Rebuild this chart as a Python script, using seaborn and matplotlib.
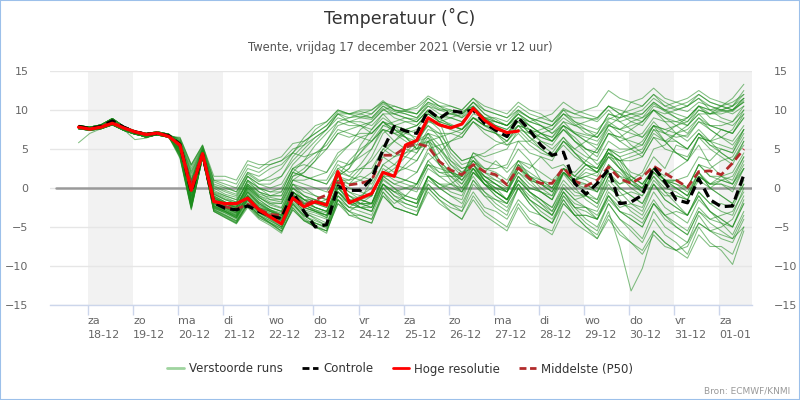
import pandas as pd
import matplotlib
matplotlib.use("Agg")
import matplotlib.pyplot as plt
from matplotlib.lines import Line2D
from matplotlib.patches import Rectangle
import seaborn as sns

# 6-hourly steps, local time, first step 17-12 19:00
start = "2021-12-17 19:00"
n_steps = 60

day_names = ["za", "zo", "ma", "di", "wo", "do", "vr",
             "za", "zo", "ma", "di", "wo", "do", "vr", "za"]
day_dates = ["18-12", "19-12", "20-12", "21-12", "22-12", "23-12", "24-12",
             "25-12", "26-12", "27-12", "28-12", "29-12", "30-12", "31-12", "01-01"]

hres = [7.8, 7.55, 7.8, 8.3, 7.7, 7.2, 6.85, 7.05, 6.6, 5.5, -0.3, 4.4, -1.75, -2.0,
        -2.0, -1.3, -2.8, -3.7, -4.6, -1.3, -2.4, -1.75, -2.2, 2.1, -1.9, -1.3, -0.7,
        2.0, 1.5, 5.5, 6.1, 9.0, 8.1, 7.7, 8.2, 10.2, 8.7, 7.7, 7.1, 7.3]

control = [7.9, 7.6, 7.9, 8.6, 7.8, 7.2, 6.9, 7.0, 6.7, 5.6, -0.5, 4.3, -1.9, -2.6,
           -2.8, -2.3, -3.0, -3.6, -3.9, -0.5, -3.0, -5.0, -4.7, 0.2, -0.3, -0.3, 1.2,
           4.9, 7.9, 7.3, 7.0, 10.0, 8.9, 9.9, 9.7, 10.0, 8.3, 7.4, 6.6, 9.0, 7.4,
           5.5, 4.2, 4.6, 0.6, -0.8, 0.6, 2.4, -2.0, -1.8, -0.9, 2.7, 0.8, -1.5, -1.9,
           1.2, -1.5, -2.4, -2.3, 1.7]

p50 = [7.8, 7.6, 7.9, 8.4, 7.8, 7.2, 6.9, 7.0, 6.7, 5.4, 0.3, 4.4, -1.6, -2.4, -2.7,
       -2.1, -2.7, -3.4, -3.5, -0.9, -2.2, -1.5, -0.9, 0.7, 0.4, 0.6, 1.0, 4.2, 4.2,
       5.2, 5.7, 5.3, 3.4, 2.3, 1.7, 3.0, 2.1, 1.7, 0.4, 2.6, 1.2, 0.6, 0.6, 2.6, 0.9,
       0.25, 1.0, 2.7, 1.2, 0.6, 1.4, 2.8, 1.9, 1.0, 0.1, 2.1, 2.2, 1.7, 3.2, 5.0]

members = [
    [7.8, 7.6, 7.8, 8.4, 7.6, 7.1, 6.8, 7.0, 6.6, 5.8, 1.0, 4.8, -0.5, -1.0, -1.5, 0.5, -0.8, -1.2, -1.5, 1.5, 2.0, 3.5, 6.0, 8.5, 9.0, 9.2, 9.0, 10.5, 9.8, 9.5, 9.0, 10.8, 10.0, 9.5, 9.2, 11.0, 9.5, 8.8, 8.0, 9.8, 9.0, 8.5, 8.0, 9.5, 8.2, 7.0, 6.5, 8.8, 9.5, 10.0, 10.5, 12.0, 11.0, 10.2, 9.8, 11.0, 10.5, 10.0, 9.8, 11.2],
    [7.9, 7.7, 7.9, 8.6, 7.8, 7.2, 6.9, 7.1, 6.8, 6.2, 2.5, 5.3, 0.8, 0.2, -0.5, 2.0, 1.5, 2.5, 3.0, 4.5, 6.5, 8.0, 8.5, 10.0, 9.5, 9.0, 8.8, 10.2, 9.0, 8.5, 8.0, 9.8, 8.8, 8.2, 7.5, 9.0, 8.0, 7.0, 6.0, 8.0, 7.5, 6.0, 5.5, 7.5, 6.5, 5.0, 4.0, 7.0, 6.5, 6.0, 5.5, 8.0, 7.0, 6.5, 6.8, 8.5, 8.0, 7.5, 7.0, 9.0],
    [7.6, 7.4, 7.6, 8.1, 7.4, 6.9, 6.6, 6.8, 6.5, 5.2, -0.5, 4.4, -1.8, -2.5, -3.2, -1.0, -2.8, -3.5, -4.2, -1.0, -2.5, -3.0, -3.8, 0.5, -1.0, -2.0, -2.5, 1.2, 0.0, -1.5, -2.0, 1.5, 0.5, 0.0, -0.5, 2.5, 1.5, 0.5, -0.2, 3.0, 1.0, -0.5, -1.5, 1.8, 0.0, -1.5, -2.5, 1.0, -0.5, -2.0, -3.0, 0.5, -1.5, -2.5, -3.5, -0.5, -2.0, -3.0, -3.5, 0.0],
    [8.0, 7.8, 8.1, 8.9, 7.9, 7.3, 7.0, 7.2, 6.9, 4.5, -2.0, 4.0, -2.5, -3.0, -3.8, -1.5, -3.2, -4.0, -5.0, -1.5, -3.0, -4.0, -4.8, -0.5, -2.0, -1.5, 1.0, 4.5, 6.0, 7.5, 8.0, 9.5, 8.5, 8.0, 7.5, 9.0, 8.0, 7.5, 7.0, 8.5, 7.0, 6.5, 6.0, 8.0, 7.2, 6.8, 6.5, 8.2, 7.0, 5.5, 4.5, 7.5, 6.0, 4.5, 3.5, 6.5, 5.0, 4.0, 3.0, 6.0],
    [7.7, 7.5, 7.7, 8.2, 7.5, 7.0, 6.5, 6.9, 6.7, 5.5, 0.2, 4.6, -1.2, -2.0, -2.5, 0.0, -1.5, -2.5, -3.0, 0.5, -0.5, -1.0, -1.5, 2.5, 3.0, 4.5, 6.5, 8.5, 8.0, 8.5, 8.5, 10.0, 9.0, 9.5, 9.8, 10.5, 9.0, 7.0, 5.5, 6.0, 4.5, 4.0, 2.5, 3.0, 1.5, 1.0, 0.0, 3.0, 1.5, 1.0, 0.0, 2.5, 1.0, 0.0, -1.0, 2.0, 0.5, 0.5, -0.5, 2.5],
    [7.8, 7.6, 7.8, 8.4, 7.6, 7.1, 6.8, 7.0, 6.6, 3.8, -2.8, 3.9, -3.0, -3.8, -4.5, -2.0, -3.5, -4.5, -5.5, -2.5, -4.0, -5.0, -5.8, -1.5, -3.5, -4.0, -4.5, -0.5, -2.5, -3.0, -3.5, 0.5, -1.0, -2.0, -2.5, 1.0, -1.0, -2.5, -3.5, 0.0, -2.0, -3.5, -4.5, -1.0, -3.0, -4.5, -5.5, -2.0, -4.0, -5.0, -6.5, -3.0, -5.0, -6.0, -7.0, -3.5, -5.5, -6.5, -7.0, -4.0],
    [7.9, 7.7, 7.9, 8.6, 7.8, 7.2, 6.9, 7.1, 6.8, 6.0, 1.8, 5.0, 0.2, -0.5, -1.0, 1.5, 0.5, 0.5, 1.5, 3.5, 5.0, 6.5, 7.5, 9.5, 9.0, 9.5, 10.0, 11.0, 10.0, 9.8, 9.5, 11.5, 10.5, 10.0, 9.5, 10.5, 9.0, 8.0, 7.5, 9.0, 8.0, 7.0, 6.0, 8.0, 7.0, 6.0, 5.0, 7.5, 6.0, 5.0, 4.0, 6.5, 5.0, 4.5, 4.0, 6.5, 6.0, 6.5, 7.5, 10.0],
    [7.6, 7.4, 7.6, 8.1, 7.4, 6.9, 6.6, 6.8, 6.5, 4.9, -1.2, 4.2, -2.2, -2.8, -3.5, -1.5, -3.0, -3.8, -4.5, -1.0, -2.0, -2.0, -1.5, 1.5, 3.5, 5.0, 6.0, 7.5, 7.0, 6.5, 6.0, 8.0, 6.5, 3.5, 2.0, 2.5, 0.5, -1.0, -2.0, 0.5, -1.5, -2.5, -3.5, -1.0, -2.5, -3.0, -4.0, -1.5, -3.0, -3.5, -4.5, -2.0, -3.5, -3.0, -3.5, -0.5, -2.0, -2.0, -2.5, 0.5],
    [8.0, 7.8, 8.1, 8.9, 7.9, 7.3, 7.0, 7.2, 6.9, 5.8, 0.8, 4.9, -0.8, -1.5, -2.0, 0.8, -0.5, -1.0, -1.0, 2.0, 1.5, 1.0, 0.5, 2.5, 1.5, 1.0, 0.5, 3.0, 2.0, 2.5, 3.5, 6.0, 6.5, 7.0, 7.5, 9.5, 9.0, 9.0, 8.5, 10.0, 9.0, 8.5, 8.0, 9.5, 8.5, 8.0, 7.5, 9.0, 8.5, 9.0, 9.5, 11.0, 10.0, 9.5, 9.0, 10.5, 10.0, 10.0, 10.5, 12.0],
    [7.7, 7.5, 7.7, 8.2, 7.5, 7.0, 6.5, 6.9, 6.7, 5.0, -1.0, 4.3, -2.0, -2.5, -3.0, -0.5, -2.0, -3.0, -3.5, -0.5, -1.5, -2.0, -2.5, 1.0, 0.5, 2.0, 4.0, 7.0, 8.0, 7.5, 6.0, 6.5, 3.5, 2.0, 0.5, 2.5, 0.5, -0.5, -1.5, 1.0, -0.5, -1.5, -3.0, 0.0, -1.5, -2.5, -4.0, -1.0, -3.0, -4.0, -5.0, -2.0, -4.0, -5.0, -6.0, -3.0, -4.5, -5.5, -6.5, -3.5],
    [5.8, 7.0, 7.6, 8.3, 7.6, 7.0, 6.7, 6.9, 6.6, 5.4, 0.5, 4.7, -1.0, -1.8, -2.2, 0.2, -1.2, -2.0, -2.0, 1.0, 1.0, 1.5, 2.0, 4.0, 5.5, 7.5, 8.5, 10.0, 10.5, 10.0, 9.5, 11.0, 10.2, 9.8, 9.0, 10.0, 8.5, 7.5, 7.0, 8.5, 7.0, 6.0, 5.0, 6.5, 4.5, 3.0, 2.0, 4.5, 3.5, 3.5, 4.0, 6.5, 6.0, 7.0, 7.5, 9.0, 8.0, 8.0, 8.5, 10.5],
    [7.7, 7.5, 7.8, 8.3, 7.5, 6.2, 6.4, 6.9, 6.7, 6.4, 3.0, 5.5, 1.0, 1.0, 0.5, 3.0, 2.5, 3.5, 4.0, 5.7, 6.0, 7.0, 8.0, 9.5, 8.5, 8.0, 7.0, 8.5, 7.0, 6.0, 5.0, 7.0, 5.5, 3.0, 1.5, 3.0, 1.0, 0.5, -0.5, 2.5, 1.5, 1.0, 0.0, 2.5, 1.5, 3.0, 2.5, 5.0, 4.5, 5.0, 6.0, 8.0, 7.5, 7.0, 6.5, 8.5, 7.5, 6.5, 5.5, 7.5],
    [7.8, 7.6, 7.8, 8.4, 7.6, 7.1, 6.8, 7.0, 6.6, 5.2, -0.2, 4.5, -1.5, -2.2, -2.8, -0.5, -2.0, -2.8, -3.5, -0.5, -1.8, -2.5, -3.0, 0.5, -0.5, -1.0, -1.0, 2.5, 1.5, 1.0, 0.5, 3.5, 2.0, 1.5, 0.5, 3.0, 1.0, 0.0, -1.5, 1.5, -0.5, -2.0, -3.5, -0.5, -2.5, -4.0, -5.0, -2.0, -4.0, -5.5, -7.0, -4.0, -6.0, -7.0, -8.5, -5.0, -7.0, -8.0, -9.8, -5.5],
    [7.9, 7.7, 7.9, 8.6, 7.8, 7.2, 6.9, 7.1, 6.8, 4.2, -2.5, 4.0, -2.8, -3.5, -4.2, -2.0, -3.5, -4.5, -5.2, -2.0, -3.5, -4.5, -5.0, -1.0, -2.5, -3.0, -3.5, 0.0, -1.5, -2.0, -2.5, 1.5, 0.0, -1.0, -1.5, 2.0, 0.5, 0.0, -0.5, 3.0, 2.0, 1.0, 0.5, 2.5, 1.5, 3.0, 2.0, 4.0, 2.5, 1.5, 0.5, 2.5, 1.0, 0.5, 0.0, 3.0, 2.5, 3.5, 4.0, 6.5],
    [7.6, 7.4, 7.6, 8.1, 7.4, 6.9, 6.6, 6.8, 6.5, 5.6, 0.6, 4.8, -0.8, -1.5, -2.0, 1.0, -0.5, -1.5, -1.8, 1.5, 2.5, 4.0, 6.0, 8.0, 8.5, 9.0, 9.5, 11.0, 10.5, 10.0, 10.5, 11.8, 11.0, 10.5, 10.0, 11.5, 10.0, 9.5, 9.0, 10.5, 9.5, 9.0, 8.5, 10.2, 9.5, 9.0, 8.8, 10.5, 10.0, 9.5, 9.0, 10.8, 9.8, 9.0, 8.5, 10.0, 9.5, 9.8, 10.0, 11.0],
    [8.0, 7.8, 8.1, 8.9, 7.9, 7.3, 7.0, 7.2, 6.9, 4.7, -1.8, 4.1, -2.4, -3.0, -3.8, -1.2, -3.0, -3.5, -4.0, -0.5, -1.5, -1.5, -2.0, 1.5, 2.5, 5.5, 7.5, 9.5, 9.5, 10.0, 10.2, 11.5, 10.5, 9.5, 9.0, 10.5, 9.0, 8.5, 8.0, 9.5, 8.0, 7.0, 6.5, 8.0, 7.0, 6.5, 6.0, 8.0, 7.5, 8.0, 8.5, 10.5, 10.0, 10.5, 11.0, 12.0, 11.0, 10.5, 10.0, 11.0],
    [7.7, 7.5, 7.7, 8.2, 7.5, 7.0, 6.5, 6.9, 6.7, 5.9, 1.2, 5.0, -0.3, -1.0, -1.5, 1.5, 0.0, -0.5, -0.5, 2.5, 3.0, 2.5, 2.0, 4.5, 5.5, 6.5, 7.0, 8.5, 7.5, 6.5, 5.0, 6.0, 3.5, 2.0, 1.0, 3.0, 1.5, 0.5, -0.5, 2.0, 1.0, 0.5, 0.0, 2.5, 2.0, 3.5, 5.0, 8.0, 9.0, 11.0, 11.5, 12.8, 11.5, 11.0, 10.5, 11.5, 10.0, 9.0, 8.5, 10.0],
    [7.8, 7.6, 7.8, 8.4, 7.6, 7.1, 6.8, 7.0, 6.6, 5.0, -0.8, 4.3, -2.0, -2.5, -3.2, -1.0, -2.5, -3.0, -3.8, -0.5, -2.0, -3.0, -3.5, 0.0, -1.5, -2.5, -3.0, 0.5, -1.0, -2.0, -2.5, 1.0, 0.0, 0.5, 1.5, 4.0, 4.5, 5.5, 6.0, 8.0, 7.5, 7.0, 6.5, 8.5, 8.0, 8.5, 9.0, 10.5, 9.5, 9.0, 8.5, 10.0, 9.0, 8.5, 8.0, 9.5, 9.5, 10.5, 11.5, 13.3],
    [7.9, 7.7, 7.9, 8.6, 7.8, 7.2, 6.9, 7.1, 6.8, 5.3, 0.0, 4.5, -1.4, -2.0, -2.5, 0.0, -1.5, -2.5, -3.0, 0.5, -1.0, -2.0, -2.5, 1.5, 1.0, 2.5, 3.5, 5.5, 4.5, 4.0, 3.5, 6.0, 5.0, 3.5, 2.5, 3.0, 1.5, 1.0, 0.5, 3.5, 3.0, 2.0, 1.0, 2.5, 1.0, 0.5, -0.5, 2.0, 0.5, 1.5, 0.5, 2.5, 1.0, 0.5, -0.5, 2.0, 0.0, -1.0, -2.0, 1.0],
    [7.6, 7.4, 7.6, 8.1, 7.4, 6.9, 6.6, 6.8, 6.5, 4.0, -2.6, 3.9, -3.0, -3.8, -4.6, -2.5, -4.0, -4.8, -5.8, -2.5, -4.2, -5.0, -5.5, -1.5, -3.0, -4.0, -4.5, -1.0, -2.5, -3.0, -3.5, 0.0, -1.5, -2.5, -3.0, 0.5, -1.0, -1.5, -2.0, 1.5, 0.0, -0.5, -1.5, 2.0, 0.5, 0.0, -0.5, 3.0, 1.5, 0.0, -1.0, 1.5, 0.0, -0.5, -1.5, 1.0, 0.0, 1.0, 1.5, 4.0],
    [8.0, 7.8, 8.1, 8.9, 7.9, 7.3, 7.0, 7.2, 6.9, 5.7, 0.5, 4.7, -1.0, -1.8, -2.5, 0.5, -1.0, -1.5, -1.5, 2.0, 3.5, 5.5, 7.0, 8.5, 8.0, 8.0, 7.5, 9.0, 8.0, 7.5, 7.0, 8.8, 7.5, 4.5, 3.0, 3.5, 2.0, 3.5, 2.0, 3.5, 1.5, 0.5, -0.5, 2.0, 0.5, -0.5, -1.5, 1.5, 0.0, -1.0, -2.0, 1.0, -0.5, -1.0, -1.5, 1.5, 0.5, 0.5, 0.0, 2.5],
    [7.7, 7.5, 7.7, 8.2, 7.5, 7.0, 6.5, 6.9, 6.7, 6.3, 2.8, 5.4, 1.0, 0.5, 0.0, 2.5, 2.0, 3.0, 3.5, 5.0, 5.5, 6.5, 7.5, 9.0, 8.5, 8.5, 8.0, 9.5, 8.0, 6.5, 5.0, 5.5, 3.0, 1.5, 0.0, 2.0, 0.5, -0.5, -1.5, 1.5, 0.0, -0.5, -1.0, 2.0, 1.0, 1.5, 2.0, 4.5, 3.5, 4.0, 4.5, 7.0, 6.0, 6.0, 5.0, 7.0, 5.5, 5.0, 4.5, 7.5],
    [7.8, 7.6, 7.8, 8.4, 7.6, 7.1, 6.8, 7.0, 6.6, 4.4, -2.2, 4.0, -2.6, -3.2, -4.0, -1.8, -3.4, -4.2, -5.0, -2.0, -3.8, -4.8, -5.5, -2.0, -3.5, -3.5, -4.0, -1.0, -2.5, -3.0, -3.5, -0.5, -2.0, -3.0, -4.0, -1.0, -3.0, -4.0, -5.0, -2.0, -4.0, -5.0, -6.0, -3.0, -4.5, -5.5, -6.5, -4.0, -6.0, -7.0, -8.0, -5.5, -7.0, -8.0, -9.0, -6.0, -7.5, -7.5, -8.5, -5.0],
    [7.9, 7.7, 7.9, 8.6, 7.8, 7.2, 6.9, 7.1, 6.8, 5.6, 0.4, 4.6, -1.1, -1.8, -2.3, 0.3, -1.0, -1.8, -2.0, 1.0, 0.5, 0.0, -0.5, 2.0, 1.5, 3.0, 5.0, 8.0, 8.5, 9.0, 8.8, 10.5, 10.0, 10.0, 9.5, 11.0, 9.5, 8.5, 8.0, 9.0, 7.5, 6.5, 6.0, 7.5, 6.0, 5.0, 4.5, 7.0, 6.0, 6.5, 7.0, 9.0, 8.5, 8.5, 9.0, 10.5, 9.5, 9.5, 10.0, 11.5],
    [7.6, 7.4, 7.6, 8.1, 7.4, 6.9, 6.6, 6.8, 6.5, 4.6, -1.9, 4.1, -2.4, -3.0, -3.6, -1.2, -2.8, -3.5, -4.2, -1.0, -2.5, -3.0, -3.5, 0.0, -1.0, -1.5, -2.0, 1.5, 0.5, 0.0, -0.5, 2.5, 1.5, 1.5, 1.5, 4.5, 4.0, 4.5, 5.0, 7.5, 7.0, 7.5, 8.0, 10.0, 9.5, 10.0, 10.5, 12.5, 11.5, 11.0, 10.5, 12.0, 10.5, 10.0, 10.5, 12.0, 11.0, 10.5, 10.0, 11.5],
    [8.0, 7.8, 8.1, 8.9, 7.9, 7.3, 7.0, 7.2, 6.9, 5.1, -0.6, 4.4, -1.6, -2.2, -2.8, -0.3, -1.8, -2.8, -3.2, 0.0, -1.0, -1.5, -2.0, 1.0, 0.0, -0.5, -1.0, 2.0, 1.0, 0.5, 0.0, 3.0, 2.0, 2.0, 1.5, 4.5, 3.5, 3.0, 2.5, 5.0, 3.5, 1.0, 0.0, 2.0, 0.5, 0.5, -0.5, 2.0, 0.0, -1.0, -2.0, 0.5, -1.5, -2.5, -3.5, -1.0, -3.0, -4.0, -5.0, -2.0],
    [7.7, 7.5, 7.7, 8.2, 7.5, 7.0, 6.5, 6.9, 6.7, 5.4, 0.0, 4.5, -1.3, -2.0, -2.6, 0.0, -1.2, -2.0, -2.5, 1.0, 2.0, 3.5, 5.0, 7.0, 7.5, 8.0, 8.5, 10.0, 9.5, 9.0, 8.5, 10.0, 9.0, 8.0, 7.5, 9.0, 8.0, 7.5, 7.0, 9.0, 8.5, 9.0, 9.5, 11.0, 10.0, 9.5, 9.0, 10.5, 9.5, 8.5, 8.0, 10.0, 9.0, 8.0, 7.0, 9.0, 7.5, 6.5, 6.0, 8.0],
    [7.8, 7.6, 7.8, 8.4, 7.6, 7.1, 6.8, 7.0, 6.6, 4.3, -2.4, 3.9, -2.8, -3.5, -4.3, -2.2, -3.8, -4.5, -5.5, -2.8, -4.2, -5.0, -5.5, -2.0, -3.0, -2.0, -1.0, 2.0, 3.0, 4.5, 6.0, 8.5, 8.0, 7.5, 7.0, 8.5, 7.0, 6.0, 5.5, 7.0, 5.5, 4.5, 4.0, 6.0, 4.5, 3.5, 2.5, 5.0, 3.0, 0.5, -0.5, 2.0, 0.5, 1.0, 1.5, 4.0, 3.5, 5.0, 4.5, 7.0],
    [7.9, 7.7, 7.9, 8.6, 7.8, 7.2, 6.9, 7.1, 6.8, 5.9, 1.5, 5.0, 0.0, -0.8, -1.2, 1.5, 0.5, 0.0, 0.5, 3.0, 4.5, 6.0, 7.5, 9.5, 9.5, 10.0, 10.0, 11.2, 10.0, 9.5, 9.0, 10.5, 9.5, 9.0, 8.5, 10.0, 9.0, 8.5, 8.0, 9.5, 8.5, 8.0, 7.0, 8.5, 7.0, 6.0, 5.5, 8.0, 7.5, 8.5, 9.0, 10.0, 8.5, 7.0, 6.0, 7.5, 6.0, 4.5, 3.5, 5.5],
    [7.6, 7.4, 7.6, 8.1, 7.4, 6.9, 6.6, 6.8, 6.5, 4.8, -1.5, 4.2, -2.3, -2.8, -3.5, -1.0, -2.5, -3.0, -3.5, 0.0, -1.5, -2.5, -3.0, 0.5, -1.0, -2.0, -2.0, 1.5, 0.5, 1.0, 2.0, 5.0, 5.5, 6.0, 6.5, 8.5, 7.5, 7.0, 6.0, 7.5, 6.0, 5.0, 4.0, 6.0, 4.5, 3.0, 2.0, 4.0, 2.5, 0.5, -0.5, 2.0, 0.5, 0.0, -1.0, 2.0, 0.0, -1.0, -2.0, 0.5],
    [8.0, 7.8, 8.1, 8.9, 7.9, 7.3, 7.0, 7.2, 6.9, 6.1, 2.2, 5.2, 0.5, 0.0, -0.5, 2.0, 1.0, 1.0, 1.5, 4.0, 5.5, 7.5, 8.5, 10.0, 9.5, 9.5, 9.0, 10.5, 9.5, 9.0, 8.5, 10.0, 8.5, 5.0, 3.5, 4.0, 2.0, 1.0, 0.0, 2.5, 1.0, 0.5, -0.5, 2.0, 1.0, 2.5, 2.0, 5.0, 4.0, 4.5, 5.0, 7.5, 7.0, 8.0, 8.5, 10.5, 10.0, 10.5, 11.0, 12.0],
    [7.7, 7.5, 7.7, 8.2, 7.5, 7.0, 6.5, 6.9, 6.7, 4.1, -2.5, 3.9, -2.9, -3.6, -4.4, -2.0, -3.6, -4.4, -5.2, -2.2, -3.6, -4.2, -4.8, -1.0, -2.0, -2.5, -3.0, 0.0, -1.5, -2.5, -3.0, 0.0, -1.5, -3.0, -4.0, -1.5, -3.5, -4.5, -5.5, -2.5, -4.5, -5.0, -5.5, -2.0, -3.5, -3.5, -4.0, -0.5, -2.0, -2.5, -3.5, -0.5, -2.5, -3.5, -4.5, -1.5, -3.0, -4.0, -5.0, -1.5],
    [7.8, 7.6, 7.8, 8.4, 7.6, 7.1, 6.8, 7.0, 6.6, 5.3, -0.3, 4.5, -1.5, -2.0, -2.5, 0.5, -0.5, -1.0, -0.5, 2.5, 3.5, 4.5, 5.5, 7.5, 7.0, 6.5, 6.0, 7.5, 6.0, 5.0, 4.5, 6.5, 5.0, 3.0, 2.0, 3.5, 1.5, 0.5, -0.5, 2.0, 0.5, -0.5, -1.5, 1.0, -0.5, -1.0, -2.0, 1.5, 0.5, 1.0, 2.0, 5.0, 5.5, 7.0, 8.0, 10.0, 9.5, 10.0, 10.5, 12.5],
    [7.9, 7.7, 7.9, 8.6, 7.8, 7.2, 6.9, 7.1, 6.8, 4.8, -1.4, 4.2, -2.1, -2.6, -3.3, -0.8, -2.3, -3.0, -3.6, -0.5, -1.5, -2.0, -2.0, 1.0, 1.0, 1.5, 1.0, 4.0, 3.0, 2.5, 2.0, 4.5, 3.0, 2.0, 1.0, 3.5, 2.0, 1.5, 0.5, 3.0, 1.5, 0.5, -0.5, 2.5, 1.0, 1.5, 1.0, 4.0, 3.5, 2.0, 1.5, 4.0, 2.5, 5.5, 5.0, 7.0, 6.0, 5.5, 5.0, 7.5],
    [7.6, 7.4, 7.6, 8.1, 7.4, 6.9, 6.6, 6.8, 6.5, 5.5, 0.3, 4.6, -1.2, -2.0, -2.7, -0.2, -1.8, -2.5, -3.0, 0.0, -1.0, -1.5, -2.0, 1.5, 2.5, 4.5, 6.0, 8.0, 7.5, 6.5, 5.5, 6.0, 3.0, 1.0, -0.5, 1.5, -0.5, -1.5, -2.5, 0.0, -1.5, -2.5, -3.5, -0.5, -2.5, -2.5, -3.5, -1.0, -3.0, -4.0, -5.0, -2.0, -3.5, -4.5, -5.5, -2.5, -4.0, -4.5, -5.0, -2.0],
    [8.0, 7.8, 8.1, 8.9, 7.9, 7.3, 7.0, 7.2, 6.9, 4.2, -2.3, 3.9, -2.7, -3.4, -4.2, -2.0, -3.5, -4.2, -5.0, -2.0, -3.5, -4.5, -5.2, -1.5, -3.0, -3.5, -4.0, -0.5, -2.0, -1.0, 0.5, 3.5, 4.5, 6.0, 7.0, 9.0, 8.5, 8.5, 8.0, 9.5, 8.5, 8.0, 7.5, 9.0, 8.0, 7.5, 7.0, 9.5, 9.0, 9.5, 9.5, 11.0, 10.0, 9.0, 8.0, 9.5, 8.0, 7.5, 7.0, 9.0],
    [7.7, 7.5, 7.7, 8.2, 7.5, 7.0, 6.5, 6.9, 6.7, 5.0, -1.0, 4.3, -1.9, -2.6, -3.2, -1.0, -2.5, -3.2, -3.8, -0.8, -2.0, -2.5, -3.0, 0.0, -1.5, -2.5, -3.0, 0.5, -1.0, -1.5, -2.0, 1.5, 0.5, -0.5, -1.0, 2.0, 1.0, 0.0, -0.5, 2.5, 1.5, 0.0, -1.0, 2.0, 1.0, 2.0, 1.5, 4.5, 3.5, 1.0, 0.0, 2.5, 1.0, 1.0, 0.0, 3.0, 1.5, 1.0, 0.5, 3.5],
    [7.8, 7.6, 7.8, 8.4, 7.6, 7.1, 6.8, 7.0, 6.6, 5.7, 0.9, 4.8, -0.7, -1.4, -1.8, 1.0, 0.0, -0.5, 0.0, 2.5, 1.5, 1.0, 0.5, 3.0, 2.0, 2.5, 2.5, 5.0, 4.0, 4.5, 5.0, 7.5, 7.0, 7.0, 6.5, 8.5, 7.5, 7.0, 6.5, 8.0, 6.5, 5.5, 4.5, 6.5, 5.0, 4.0, 3.5, 6.0, 5.0, 5.0, 5.5, 8.0, 7.5, 8.0, 9.0, 10.5, 9.0, 8.5, 8.0, 9.5],
    [7.9, 7.7, 7.9, 8.6, 7.8, 7.2, 6.9, 7.1, 6.8, 4.5, -2.0, 4.0, -2.5, -3.2, -3.9, -1.6, -3.2, -4.0, -4.8, -1.8, -3.2, -3.8, -4.5, -1.0, -2.5, -2.5, -2.0, 1.5, 2.5, 4.0, 5.5, 8.5, 8.5, 9.0, 9.5, 11.0, 10.0, 9.5, 9.0, 10.0, 9.0, 8.0, 7.0, 8.0, 6.0, 4.5, 3.0, 4.5, 2.5, 1.0, -0.5, 1.5, -0.5, -2.0, -3.5, -1.0, -3.0, -4.5, -6.0, -3.0],
    [7.6, 7.4, 7.6, 8.1, 7.4, 6.9, 6.6, 6.8, 6.5, 5.2, -0.6, 4.4, -1.7, -2.4, -3.0, -0.5, -2.0, -2.8, -3.4, -0.5, -1.5, -2.5, -3.0, 0.5, -0.5, -1.5, -2.0, 1.0, 0.0, -1.0, -1.5, 1.5, 0.0, -1.0, -2.0, 1.0, -0.5, -2.0, -3.0, 0.0, -2.0, -3.5, -4.5, -1.5, -3.5, -5.0, -6.5, -3.5, -5.5, -7.0, -8.5, -6.0, -7.5, -8.0, -7.5, -4.5, -5.5, -5.0, -4.0, -1.0],
    [8.0, 7.8, 8.1, 8.9, 7.9, 7.3, 7.0, 7.2, 6.9, 3.9, -2.7, 3.9, -3.0, -3.7, -4.5, -2.3, -3.8, -4.6, -5.6, -2.8, -4.2, -4.5, -5.0, -1.5, -2.5, -1.5, -1.0, 2.0, 1.5, 1.0, 0.5, 3.0, 1.5, 0.5, -0.5, 2.0, 0.5, -0.5, -1.5, 1.0, -0.5, -1.5, -2.5, 0.5, -1.0, -1.0, -1.5, 2.5, 2.0, 0.5, 0.0, 2.5, 1.5, 2.5, 3.5, 6.5, 6.0, 7.5, 7.0, 9.5],
    [7.7, 7.5, 7.7, 8.2, 7.5, 7.0, 6.5, 6.9, 6.7, 6.0, 2.0, 5.1, 0.3, -0.3, -0.8, 1.8, 0.8, 1.5, 2.5, 4.5, 6.0, 7.0, 8.0, 9.8, 9.5, 9.8, 9.5, 10.8, 10.0, 9.8, 9.5, 11.0, 10.5, 10.5, 10.0, 11.5, 10.5, 10.0, 9.5, 11.0, 10.0, 9.5, 8.5, 10.0, 8.5, 7.5, 6.5, 8.5, 7.5, 7.0, 6.5, 8.5, 7.0, 6.0, 5.0, 7.0, 5.5, 4.5, 3.5, 6.0],
    [7.8, 7.6, 7.8, 8.4, 7.6, 7.1, 6.8, 7.0, 6.6, 4.7, -1.6, 4.1, -2.3, -2.9, -3.6, -1.2, -2.8, -3.4, -4.0, -1.0, -2.2, -2.8, -3.2, 0.0, -1.5, -2.0, -2.0, 1.5, 1.5, 3.0, 4.5, 7.0, 6.5, 4.0, 2.5, 3.0, 1.0, -0.5, -1.5, 1.0, -0.5, -1.5, -2.5, 0.0, -1.5, -1.0, -2.0, 0.5, -1.5, -3.0, -4.0, -1.5, -3.5, -5.0, -6.0, -3.0, -4.0, -3.5, -3.0, -0.5],
    [7.9, 7.7, 7.9, 8.6, 7.8, 7.2, 6.9, 7.1, 6.8, 5.8, 1.0, 4.9, -0.6, -1.2, -1.8, 1.0, 0.0, -1.0, -1.0, 2.0, 1.5, 1.0, 1.0, 3.5, 3.0, 4.0, 5.0, 7.5, 7.0, 7.5, 8.0, 9.5, 8.5, 8.0, 7.5, 9.0, 8.0, 8.0, 7.5, 9.0, 8.0, 7.0, 6.0, 7.5, 6.0, 5.0, 4.5, 7.0, 6.5, 7.5, 8.5, 10.0, 9.5, 10.0, 10.5, 11.5, 10.5, 10.0, 9.5, 10.5],
    [7.6, 7.4, 7.6, 8.1, 7.4, 6.9, 6.6, 6.8, 6.5, 4.4, -2.1, 4.0, -2.6, -3.1, -3.8, -1.5, -3.1, -3.9, -4.6, -1.5, -3.0, -3.5, -4.0, -0.5, -2.0, -2.5, -2.5, 0.5, -0.5, -1.0, -1.5, 1.5, 0.5, 0.5, 0.0, 2.5, 1.0, -0.5, -1.5, 0.5, -1.5, -3.0, -4.0, -1.5, -3.5, -5.0, -6.0, -3.0, -7.5, -13.2, -10.3, -5.5, -7.0, -8.0, -7.0, -4.5, -5.5, -6.0, -6.5, -5.0],
    [8.0, 7.8, 8.1, 8.9, 7.9, 7.3, 7.0, 7.2, 6.9, 5.4, 0.1, 4.5, -1.3, -1.9, -2.4, 0.3, -1.2, -2.2, -2.6, 0.5, 0.0, -1.0, -1.5, 1.5, 0.5, 1.0, 2.0, 5.0, 6.0, 7.0, 7.5, 9.5, 9.0, 9.0, 8.5, 10.0, 9.0, 8.0, 7.0, 8.0, 6.5, 5.0, 4.0, 5.5, 4.0, 3.0, 2.5, 5.0, 4.0, 1.5, 0.5, 2.5, 1.0, 0.0, -1.0, 1.5, 0.5, 1.0, 0.5, 3.0],
    [7.7, 7.5, 7.7, 8.2, 7.5, 7.0, 6.5, 6.9, 6.7, 4.9, -1.1, 4.3, -2.0, -2.7, -3.4, -1.0, -2.6, -3.3, -3.9, -1.2, -2.5, -3.0, -3.5, -0.5, -1.5, -1.5, -2.0, 0.5, -0.5, -1.5, -2.0, 0.5, -1.0, -2.0, -3.0, -0.5, -2.5, -3.0, -4.0, -1.5, -3.0, -3.5, -4.5, -2.0, -3.5, -3.5, -4.0, -1.0, -2.5, -2.0, -2.5, 0.5, -1.0, -1.0, -1.5, 1.5, 0.5, 1.5, 2.0, 4.5],
    [7.8, 7.6, 7.8, 8.4, 7.6, 7.1, 6.8, 7.0, 6.6, 6.5, 3.0, 5.5, 1.5, 1.5, 1.0, 3.5, 3.0, 3.0, 3.5, 4.5, 4.0, 4.5, 5.0, 7.0, 6.5, 7.0, 7.0, 8.5, 7.5, 7.0, 6.5, 8.0, 7.0, 5.0, 3.5, 4.0, 2.5, 2.0, 1.0, 3.5, 2.5, 4.0, 3.5, 6.0, 5.0, 6.0, 7.0, 9.5, 9.0, 9.5, 10.0, 11.5, 10.5, 11.0, 11.5, 12.5, 11.5, 11.0, 10.5, 11.5],
    [7.9, 7.7, 7.9, 8.6, 7.8, 7.2, 6.9, 7.1, 6.8, 5.1, -0.4, 4.4, -1.6, -2.3, -2.9, -0.6, -2.2, -2.9, -3.5, -0.8, -2.2, -2.8, -3.5, -0.5, -2.0, -2.0, -2.5, 0.5, -0.5, 0.0, 0.5, 3.0, 2.5, 2.0, 1.5, 3.5, 2.5, 2.5, 3.0, 6.0, 6.0, 7.0, 7.5, 9.5, 9.0, 9.0, 8.5, 10.0, 8.5, 7.5, 6.5, 8.0, 6.0, 4.5, 3.5, 5.5, 3.0, 1.5, 0.5, 2.5],
    [7.6, 7.4, 7.6, 8.1, 7.4, 6.9, 6.6, 6.8, 6.5, 4.6, -1.7, 4.1, -2.3, -3.0, -3.7, -1.4, -3.0, -3.6, -4.3, -1.2, -2.8, -3.2, -3.8, -0.5, -1.8, -1.0, 0.0, 3.0, 4.0, 5.5, 6.0, 7.0, 4.5, 2.5, 1.0, 2.5, 0.5, -1.0, -2.0, 0.5, -1.0, -2.0, -3.0, -0.5, -2.0, -2.5, -3.0, 0.0, -1.0, -0.5, -1.0, 2.0, 1.0, 1.0, 0.0, 3.0, 1.5, 1.5, 1.0, 4.0],
]

times = pd.date_range(start, periods=n_steps, freq="6h")

ens = pd.concat(
    [pd.DataFrame({"time": times[:len(m)], "temp": m, "member": k})
     for k, m in enumerate(members)],
    ignore_index=True,
)
df_hres = pd.DataFrame({"time": times[:len(hres)], "temp": hres})
df_ctrl = pd.DataFrame({"time": times[:len(control)], "temp": control})
df_p50 = pd.DataFrame({"time": times[:len(p50)], "temp": p50})

sns.set_style("white")
plt.rcParams["font.family"] = ["DejaVu Sans"]

fig = plt.figure(figsize=(8, 4), dpi=100)
ax = fig.add_axes([50 / 800, 95 / 400, 702 / 800, 234 / 400])

days = pd.date_range("2021-12-18", periods=len(day_dates), freq="D")
for d in days[::2]:
    ax.axvspan(d, d + pd.Timedelta(days=1), color="#f2f2f2", lw=0, zorder=0)

ax.axhline(0, xmin=0.008, color="#8c8c8c", lw=1.8, alpha=0.85, zorder=1)

green = "#1c8c1c"
sns.lineplot(data=ens, x="time", y="temp", units="member", estimator=None,
             color=green, lw=0.75, alpha=0.55, legend=False, ax=ax, zorder=2)
sns.lineplot(data=df_p50, x="time", y="temp", color="#b22b2b", lw=2.0,
             ax=ax, zorder=3).lines[-1].set_dashes([3, 1.6])
sns.lineplot(data=df_ctrl, x="time", y="temp", color="black", lw=2.3,
             ax=ax, zorder=4).lines[-1].set_dashes([3, 1.6])
sns.lineplot(data=df_hres, x="time", y="temp", color="#ff0000", lw=2.3,
             ax=ax, zorder=5)

ax.set_xlim(pd.Timestamp("2021-12-17 03:50"), pd.Timestamp("2022-01-01 17:20"))
ax.set_ylim(-15, 15)
ax.set_yticks(range(-15, 16, 5))
ax.yaxis.grid(True, color="#e6e6e6", lw=1)
ax.xaxis.grid(False)
ax.set_axisbelow(True)

ax.set_xticks(days)
ax.set_xticklabels([f"{n}\n{d}" for n, d in zip(day_names, day_dates)])
for lbl in ax.get_xticklabels():
    lbl.set_ha("left")
    lbl.set_multialignment("left")
    lbl.set_linespacing(1.45)
ax.tick_params(axis="x", bottom=True, length=7, width=1, color="#ccd6eb",
               labelsize=8, labelcolor="#666666", pad=1)
ax.tick_params(axis="y", left=False, right=False, labelleft=True,
               labelright=True, labelsize=8, labelcolor="#666666", pad=12)

ax.set_xlabel("")
ax.set_ylabel("")
for side in ["top", "left", "right"]:
    ax.spines[side].set_visible(False)
ax.spines["bottom"].set_color("#ccd6eb")
ax.spines["bottom"].set_linewidth(1)

fig.text(0.5, 1 - 18 / 400, "Temperatuur (˚C)", ha="center", va="center",
         fontsize=12.5, color="#333333")
fig.text(0.5, 1 - 47 / 400, "Twente, vrijdag 17 december 2021 (Versie vr 12 uur)",
         ha="center", va="center", fontsize=8.3, color="#555555")

handles = [
    Line2D([], [], color="#9fd49f", lw=2),
    Line2D([], [], color="black", lw=2, dashes=[2.5, 1.3]),
    Line2D([], [], color="#ff0000", lw=2),
    Line2D([], [], color="#b22b2b", lw=2, dashes=[2.5, 1.3]),
]
labels = ["Verstoorde runs", "Controle", "Hoge resolutie", "Middelste (P50)"]
fig.legend(handles, labels, loc="center", bbox_to_anchor=(0.5, 1 - 369 / 400),
           ncol=4, frameon=False, fontsize=8.5, handlelength=1.4,
           handletextpad=0.45, columnspacing=1.6, labelcolor="#333333")

fig.text(1 - 10 / 800, 1 - 391 / 400, "Bron: ECMWF/KNMI", ha="right",
         va="center", fontsize=6.5, color="#999999")

fig.patches.append(Rectangle((0, 0), 1, 1, transform=fig.transFigure,
                             fill=False, edgecolor="#9cc0ea", lw=1.5))

fig.savefig("out.png", dpi=100)
plt.close(fig)
